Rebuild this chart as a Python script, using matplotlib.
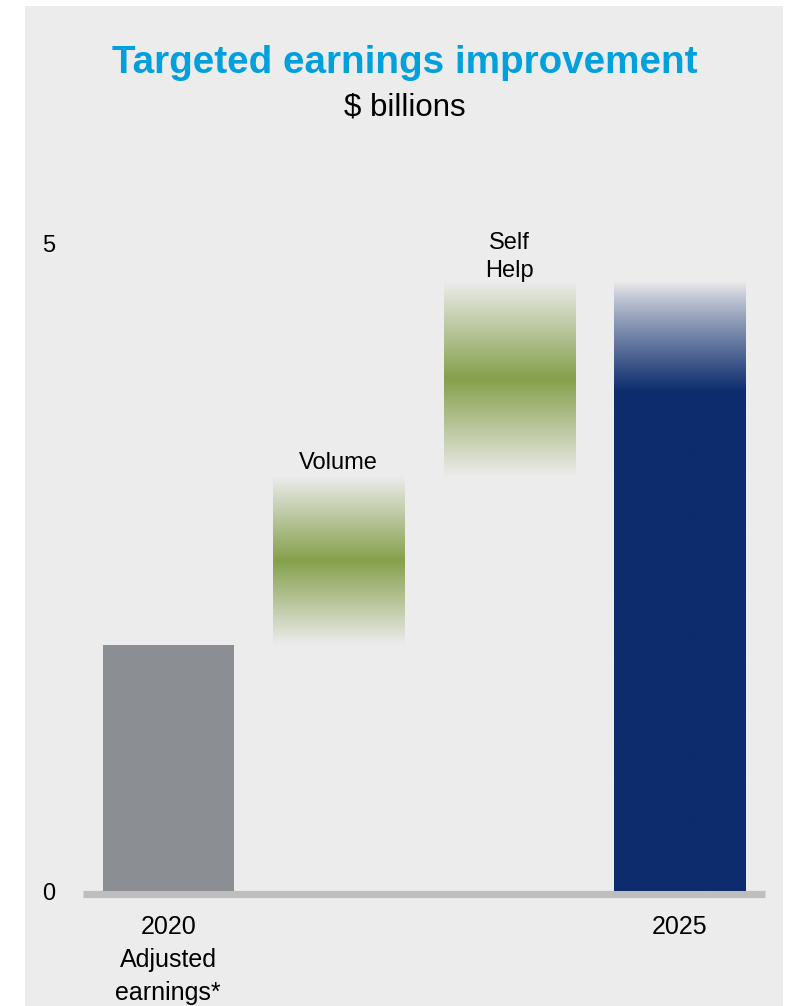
import numpy as np
import matplotlib
matplotlib.use("Agg")
from matplotlib import pyplot as plt, patches
from matplotlib.colors import to_rgb

plt.rcParams['font.family'] = ['Liberation Sans', 'DejaVu Sans']

# data ($ billions)
steps = ["2020", "Volume", "Self\nHelp", "2025"]
tick_labels = ["2020\nAdjusted\nearnings*", "", "", "2025"]
earnings_2020 = 1.9
volume = 1.3
self_help = 1.5
target_2025 = 4.7

BG = '#ECECEC'
GRAY = '#8B8E92'
GREEN = '#85A04B'
NAVY = '#0C2C6E'

fig = plt.figure(figsize=(7.95, 10.06), dpi=100)
W, H = 795, 1006
fig.patches.append(patches.Rectangle((25 / W, 0), (783 - 25) / W, 1 - 6 / H,
                                     transform=fig.transFigure, facecolor=BG,
                                     edgecolor='none', zorder=-5))

ax = fig.add_axes([83 / W, (H - 891) / H, (765 - 83) / W, 648 / H])
ax.set_facecolor('none')
ax.set_zorder(2)

width = 131 / 170


def gradient_bar(x, bottom, top, color, alpha):
    # alpha runs from bottom (first) to top (last)
    rgb = np.array(to_rgb(color))
    bg = np.array(to_rgb(BG))
    a = alpha[:, None]
    img = a * rgb + (1 - a) * bg
    img = np.repeat(img[:, None, :], 2, axis=1)
    ax.imshow(img, extent=(x - width / 2, x + width / 2, bottom, top),
              origin='lower', aspect='auto', interpolation='bilinear', zorder=2)


n = 300
t = np.linspace(0, 1, n)
bump = 1 - np.abs(2 * t - 1)

# 2020 solid
ax.bar(0, earnings_2020, width=width, color=GRAY, zorder=2)

# volume step
gradient_bar(1, earnings_2020, earnings_2020 + volume, GREEN, bump)
# self help step
sh_bottom = earnings_2020 + volume
gradient_bar(2, sh_bottom, sh_bottom + self_help, GREEN, bump)

# 2025 with faded top
fade = 0.85
y = t * target_2025
alpha25 = np.clip((target_2025 - y) / fade, 0, 1) ** 0.85
gradient_bar(3, 0, target_2025, NAVY, alpha25)

tops = [earnings_2020, earnings_2020 + volume, sh_bottom + self_help, target_2025]
offsets = {1: 2, 2: 0}
for i in (1, 2):
    ax.annotate(steps[i], (i, tops[i]), xytext=(0, offsets[i]), textcoords='offset points',
                ha='center', va='bottom', fontsize=17, linespacing=1.35)

ax.axhline(-0.027, color='#BEBEBE', lw=5.2, zorder=1, clip_on=False,
           solid_capstyle='butt')

ax.set_xlim(-0.5, 3.5)
ax.set_ylim(0, 5)
ax.set_xticks(range(len(steps)))
ax.set_xticklabels(tick_labels, fontsize=18, linespacing=1.47)
ax.set_yticks([0, 5])
ax.set_yticklabels(['0', '5'], fontsize=17)
ax.tick_params(axis='x', length=0, pad=17.5)
ax.tick_params(axis='y', length=0, pad=20)
for s in ax.spines.values():
    s.set_visible(False)

fig.text(405 / W, 1 - 63 / H, "Targeted earnings improvement", ha='center',
         va='center', fontsize=27.8, fontweight='bold', color='#00A0DC')
fig.text(405 / W, 1 - 107 / H, "$ billions", ha='center', va='center',
         fontsize=22.5, color='black')

fig.savefig('out.png', dpi=100, facecolor='white')
